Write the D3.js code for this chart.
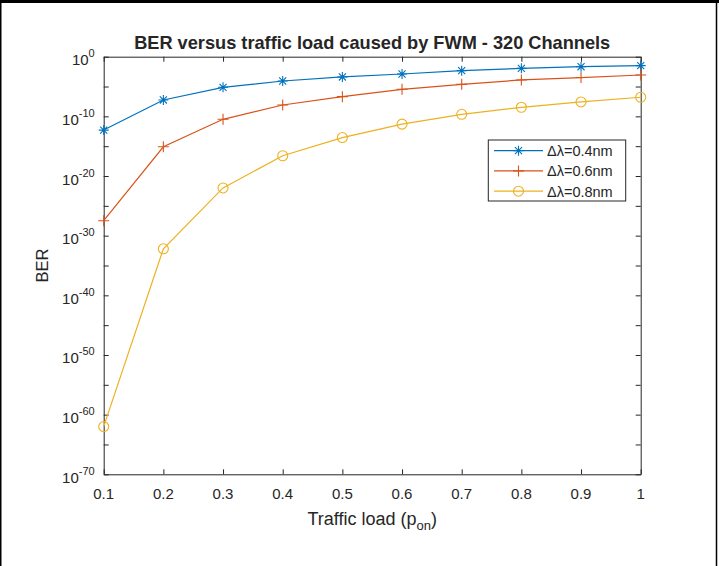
<!DOCTYPE html>
<html>
<head>
<meta charset="utf-8">
<script src="https://cdn.jsdelivr.net/npm/d3@7/dist/d3.min.js"></script>
<style>
  html, body { margin: 0; padding: 0; background: #fff; }
  svg { display: block; }
  text { font-family: "Liberation Sans", Arial, Helvetica, sans-serif; fill: #262626; }
</style>
</head>
<body>
<svg id="chart" width="719" height="566"></svg>
<script>
// Traffic load (p_on) values
const trafficLoad = [0.1, 0.2, 0.3, 0.4, 0.5, 0.6, 0.7, 0.8, 0.9, 1.0];
const xTickLabels = ["0.1", "0.2", "0.3", "0.4", "0.5", "0.6", "0.7", "0.8", "0.9", "1"];

// BER for each channel spacing
const berSpacing04 = [5.0e-13, 5.6e-8, 7.4e-6, 8.5e-5, 4.0e-4, 1.26e-3, 4.6e-3, 1.12e-2, 2.1e-2, 3.2e-2];
const berSpacing06 = [3.2e-28, 7.9e-16, 3.2e-11, 8.1e-9, 2.0e-7, 3.4e-6, 2.3e-5, 1.26e-4, 3.2e-4, 8.5e-4];
const berSpacing08 = [1.0e-62, 6.3e-33, 1.0e-22, 2.5e-17, 2.8e-14, 5.0e-12, 2.2e-10, 3.3e-9, 2.6e-8, 1.6e-7];

const seriesNames = ["\u0394\u03bb=0.4nm", "\u0394\u03bb=0.6nm", "\u0394\u03bb=0.8nm"];
const seriesColors = ["#0072BD", "#D95319", "#EDB120"];
const seriesMarkers = ["star", "plus", "circle"];

// Decade exponents for the labelled y ticks and for all tick marks
const yLabelExponents = [-70, -60, -50, -40, -30, -20, -10, 0];
const yTickExponents = d3.range(-70, 1, 5);

const svg = d3.select("#chart");
const W = 719, H = 566;
const plot = { left: 103.7, right: 640.7, top: 56.7, bottom: 474.3 };
const axisColor = "#262626";

// figure frame
svg.append("rect").attr("x", 0).attr("y", 0).attr("width", W).attr("height", H).attr("fill", "#fff");
svg.append("line").attr("x1", 0).attr("x2", W).attr("y1", 1.5).attr("y2", 1.5).attr("stroke", "#000").attr("stroke-width", 3);
svg.append("line").attr("x1", 0.75).attr("x2", 0.75).attr("y1", 0).attr("y2", H).attr("stroke", "#000").attr("stroke-width", 1.5);
svg.append("line").attr("x1", 716.5).attr("x2", 716.5).attr("y1", 0).attr("y2", H).attr("stroke", "#000").attr("stroke-width", 1.5);

const x = d3.scaleLinear().domain([0.1, 1]).range([plot.left, plot.right]);
const y = d3.scaleLog().domain([1e-70, 1]).range([plot.bottom, plot.top]);

const tickLen = 5;
const yTickValues = yTickExponents.map(e => Math.pow(10, e));

function styleAxis(g) {
  g.selectAll("path.domain").attr("stroke", axisColor).attr("stroke-width", 1);
  g.selectAll(".tick line").attr("stroke", axisColor).attr("stroke-width", 1);
  g.selectAll(".tick text").remove();
}

// bottom / top / left / right axes with inward ticks
svg.append("g").attr("transform", `translate(0,${plot.bottom})`)
  .call(d3.axisBottom(x).tickValues(trafficLoad).tickSizeInner(-tickLen).tickSizeOuter(0))
  .call(styleAxis);
svg.append("g").attr("transform", `translate(0,${plot.top})`)
  .call(d3.axisTop(x).tickValues(trafficLoad).tickSizeInner(-tickLen).tickSizeOuter(0))
  .call(styleAxis);
svg.append("g").attr("transform", `translate(${plot.left},0)`)
  .call(d3.axisLeft(y).tickValues(yTickValues).tickSizeInner(-tickLen).tickSizeOuter(0))
  .call(styleAxis);
svg.append("g").attr("transform", `translate(${plot.right},0)`)
  .call(d3.axisRight(y).tickValues(yTickValues).tickSizeInner(-tickLen).tickSizeOuter(0))
  .call(styleAxis);

// x tick labels
svg.append("g").selectAll("text").data(trafficLoad).join("text")
  .attr("x", d => x(d)).attr("y", plot.bottom + 24.7)
  .attr("text-anchor", "middle").attr("font-size", 15)
  .text((d, i) => xTickLabels[i]);

// y tick labels as powers of ten
const yl = svg.append("g").selectAll("text").data(yLabelExponents).join("text")
  .attr("x", plot.left - 9).attr("y", e => y(Math.pow(10, e)) + 8.5)
  .attr("text-anchor", "end").attr("font-size", 15);
yl.append("tspan").text("10");
yl.append("tspan").attr("font-size", 11).attr("dy", -8).text(e => String(e));

// title and axis labels
svg.append("text").attr("x", (plot.left + plot.right) / 2).attr("y", 49)
  .attr("text-anchor", "middle").attr("font-size", 18.2).attr("font-weight", "bold")
  .attr("fill", "#000")
  .text("BER versus traffic load caused by FWM - 320 Channels");

const xl = svg.append("text").attr("x", (plot.left + plot.right) / 2).attr("y", 525)
  .attr("text-anchor", "middle").attr("font-size", 18);
xl.append("tspan").text("Traffic load (p");
xl.append("tspan").attr("font-size", 13).attr("dy", 5).text("on");
xl.append("tspan").attr("dy", -5).text(")");

svg.append("text").attr("transform", `translate(48,${(plot.top + plot.bottom) / 2}) rotate(-90)`)
  .attr("text-anchor", "middle").attr("font-size", 16.5).text("BER");

// marker shapes
function markerPath(type) {
  if (type === "star") {
    const r = 5, d = r * Math.SQRT1_2;
    return `M${-r},0L${r},0M0,${-r}L0,${r}M${-d},${-d}L${d},${d}M${-d},${d}L${d},${-d}`;
  }
  if (type === "plus") {
    const r = 5.5;
    return `M${-r},0L${r},0M0,${-r}L0,${r}`;
  }
  return null;
}

function drawMarker(g, type, color) {
  if (type === "circle") {
    g.append("circle").attr("r", 5).attr("fill", "none").attr("stroke", color).attr("stroke-width", 1.1);
  } else {
    g.append("path").attr("d", markerPath(type)).attr("fill", "none").attr("stroke", color).attr("stroke-width", 1.1);
  }
}

const allSeries = [berSpacing04, berSpacing06, berSpacing08];
const line = d3.line().x(d => x(d[0])).y(d => y(d[1]));

allSeries.forEach((vals, si) => {
  const pts = trafficLoad.map((t, i) => [t, vals[i]]);
  const g = svg.append("g");
  g.append("path").datum(pts).attr("d", line)
    .attr("fill", "none").attr("stroke", seriesColors[si]).attr("stroke-width", 1.2);
  pts.forEach(p => {
    const mg = g.append("g").attr("transform", `translate(${x(p[0])},${y(p[1])})`);
    drawMarker(mg, seriesMarkers[si], seriesColors[si]);
  });
});

// legend
const legend = { x: 488.3, y: 140, w: 137.4, h: 61 };
const lg = svg.append("g");
lg.append("rect").attr("x", legend.x).attr("y", legend.y).attr("width", legend.w).attr("height", legend.h)
  .attr("fill", "#fff").attr("stroke", axisColor).attr("stroke-width", 1);
const rowY = [150.7, 170.9, 191.2];
seriesNames.forEach((name, i) => {
  lg.append("line").attr("x1", 494).attr("x2", 543).attr("y1", rowY[i]).attr("y2", rowY[i])
    .attr("stroke", seriesColors[i]).attr("stroke-width", 1.2);
  const mg = lg.append("g").attr("transform", `translate(518.5,${rowY[i]})`);
  drawMarker(mg, seriesMarkers[i], seriesColors[i]);
  lg.append("text").attr("x", 547).attr("y", rowY[i] + 5.3).attr("font-size", 14.5).text(name);
});
</script>
</body>
</html>
